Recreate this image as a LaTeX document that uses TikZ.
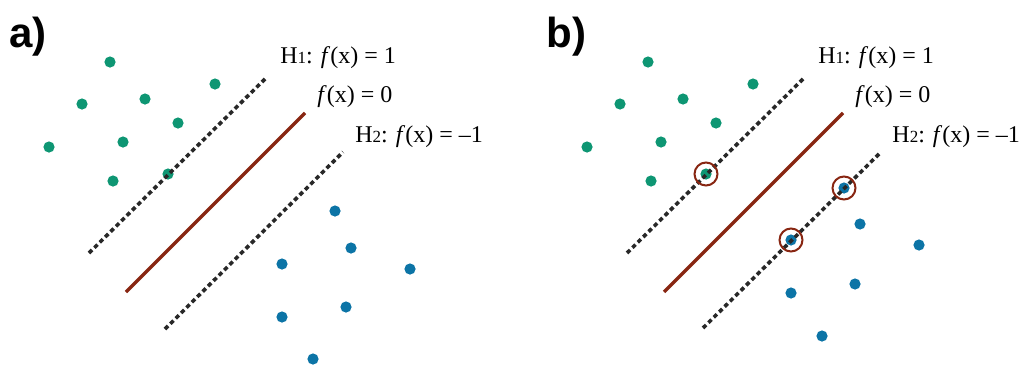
\documentclass[tikz,border=0pt]{standalone}
\usepackage{fontspec}
\setmainfont{Liberation Serif}
\newfontfamily\panelfont{Liberation Sans}
\definecolor{dotgreen}{RGB}{14,150,115}
\definecolor{dotblue}{RGB}{12,116,166}
\definecolor{sepred}{RGB}{136,38,18}
\definecolor{margin}{RGB}{40,40,40}
\tikzset{
  gdot/.style={circle,fill=dotgreen,inner sep=0pt,minimum size=5.6pt},
  bdot/.style={circle,fill=dotblue,inner sep=0pt,minimum size=5.6pt},
  sv/.style={circle,draw=sepred,line width=1pt,inner sep=0pt,minimum size=11.5pt},
  sepline/.style={draw=sepred,line width=1.7pt},
  marginline/.style={draw=margin,line width=1.8pt,dash pattern=on 2.2pt off 1.6pt},
  eqlabel/.style={anchor=base west,inner sep=0pt,font=\fontsize{12}{14}\selectfont},
  panellabel/.style={anchor=base west,inner sep=0pt,font=\panelfont\bfseries\fontsize{21}{25}\selectfont}
}
\newcommand{\Hsub}[1]{H{\fontsize{8.5}{9}\selectfont #1}}
\begin{document}
\begin{tikzpicture}[x=0.5pt,y=-0.5pt]
\useasboundingbox (0,0) rectangle (1020,365);
% ---------- panel a ----------
\node[panellabel] (la) at (9,47) {a)};
\foreach \p/\q [count=\i] in {110/62,82/104,145/99,215/84,178/123,123/142,49/147,113/181,168/174}
  \node[gdot] (ag\i) at (\p,\q) {};
\foreach \p/\q [count=\i] in {335/211,351/248,282/264,410/269,282/317,346/307,313/359}
  \node[bdot] (ab\i) at (\p,\q) {};
\coordinate (ah1s) at (89,253); \coordinate (ah1e) at (267,77);
\coordinate (a0s) at (126,292); \coordinate (a0e) at (305,113);
\coordinate (ah2s) at (165,329); \coordinate (ah2e) at (343,152);
\draw[marginline] (ah1s) -- (ah1e);
\draw[sepline] (a0s) -- (a0e);
\draw[marginline] (ah2s) -- (ah2e);
\node[eqlabel] (at1) at (280,63) {\Hsub{1}: \textit{f}(x) = 1};
\node[eqlabel] (at0) at (317,102) {\textit{f}(x) = 0};
\node[eqlabel] (at2) at (355,142) {\Hsub{2}: \textit{f}(x) = –1};
% ---------- panel b ----------
\node[panellabel] (lb) at (546,47) {b)};
\foreach \p/\q [count=\i] in {648/62,620/104,683/99,753/84,716/123,661/142,587/147,651/181,706/174}
  \node[gdot] (bg\i) at (\p,\q) {};
\foreach \p/\q [count=\i] in {844/188,860/224,791/240,919/245,791/293,855/284,822/336}
  \node[bdot] (bb\i) at (\p,\q) {};
\coordinate (bh1s) at (627,253); \coordinate (bh1e) at (805,77);
\coordinate (b0s) at (664,292); \coordinate (b0e) at (843,113);
\coordinate (bh2s) at (703,328); \coordinate (bh2e) at (881,152);
\draw[marginline] (bh1s) -- (bh1e);
\draw[sepline] (b0s) -- (b0e);
\draw[marginline] (bh2s) -- (bh2e);
\node[sv] (sv1) at (bg9) {};
\node[sv] (sv2) at (bb1) {};
\node[sv] (sv3) at (bb3) {};
\node[eqlabel] (bt1) at (818,63) {\Hsub{1}: \textit{f}(x) = 1};
\node[eqlabel] (bt0) at (855,102) {\textit{f}(x) = 0};
\node[eqlabel] (bt2) at (892,142) {\Hsub{2}: \textit{f}(x) = –1};
\end{tikzpicture}
\end{document}
